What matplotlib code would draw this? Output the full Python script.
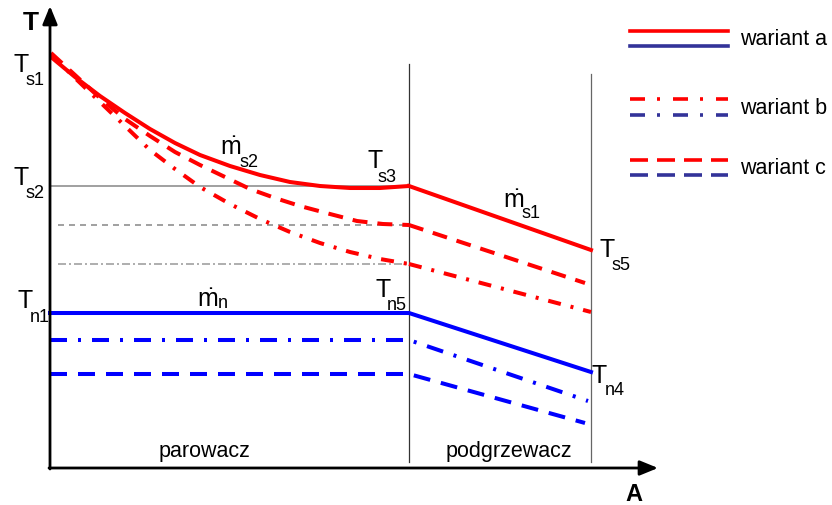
import matplotlib
matplotlib.use("Agg")
import matplotlib.pyplot as plt
from matplotlib import font_manager

# Pick a narrow sans family when available
def pick_family(names):
    for n in names:
        try:
            font_manager.findfont(font_manager.FontProperties(family=n), fallback_to_default=False)
            return n
        except Exception:
            continue
    return "DejaVu Sans"

FAMILY = pick_family(["Liberation Sans Narrow", "Liberation Sans", "DejaVu Sans"])
plt.rcParams["font.family"] = [FAMILY, "DejaVu Sans"]
plt.rcParams["mathtext.fontset"] = "custom"
plt.rcParams["mathtext.rm"] = FAMILY
plt.rcParams["mathtext.it"] = FAMILY
plt.rcParams["lines.scale_dashes"] = False

# ---- schematic data (A = heat-exchange area, T = temperature, arbitrary units) ----
A_split = 359          # end of evaporator (parowacz), start of preheater (podgrzewacz)
A_end = 541            # end of preheater

# steam side in the evaporator, variant a / b / c
A_s_a = [1, 25, 50, 75, 100, 125, 150, 180, 210, 240, 270, 300, 330, 359]
T_s_a = [411, 391, 372, 355, 339, 325, 313, 302, 293, 286, 282, 280, 280, 282]
A_s_b = [1, 25, 50, 75, 100, 125, 150, 180, 210, 240, 270, 300, 330, 359]
T_s_b = [414, 390, 366, 342, 318, 299, 281, 264, 249, 236, 225, 216, 209, 204]
A_s_c = [1, 25, 50, 75, 100, 125, 150, 175, 200, 225, 250, 280, 307, 333, 359]
T_s_c = [415, 393, 370, 349, 332, 316, 303, 291, 279, 270, 262, 254, 247, 244, 243]

# steam side in the preheater (start, end)
A_p_a, T_p_a = [359, 541], [282, 218]
A_p_b, T_p_b = [359, 541], [204, 156]
A_p_c, T_p_c = [359, 535], [243, 185]

# water side: constant in the evaporator, falling in the preheater
T_n_a, A_n_a_end, T_n_a_end = 155, 541, 96
T_n_b, A_n_b_end, T_n_b_end = 128, 538, 67
T_n_c, A_n_c_end, T_n_c_end = 94, 535, 45

RED = "#ff0000"
BLUE = "#0000ff"
NAVY = "#333399"
GRAY = "#999999"
PX = 0.72  # points per pixel at 100 dpi

fig = plt.figure(figsize=(8.32, 5.06), dpi=100)
ax = fig.add_axes([0, 0, 1, 1])
ax.set_xlim(-50, 782)
ax.set_ylim(-37, 469)
ax.axis("off")

lw = 2.9
dash_c = (0, (15 * PX, 10 * PX))
dashdot_b = (0, (13 * PX, 10 * PX, 3 * PX, 10 * PX))
dash_c_blue = (0, (17 * PX, 11 * PX))
dashdot_b_blue = (0, (17 * PX, 11 * PX, 3 * PX, 11 * PX))

# gray reference levels at the evaporator outlet
ax.plot([0, A_split], [T_s_a[-1], T_s_a[-1]], color=GRAY, lw=1.3, zorder=1)
ax.plot([8, A_split], [T_s_c[-1], T_s_c[-1]], color=GRAY, lw=1.3,
        linestyle=(0, (6 * PX, 5 * PX)), zorder=1)
ax.plot([8, A_split], [T_s_b[-1], T_s_b[-1]], color=GRAY, lw=1.1,
        linestyle=(0, (8 * PX, 3 * PX, 2 * PX, 3 * PX)), zorder=1)

# section boundaries
ax.plot([A_split, A_split], [6, 404], color="#333333", lw=0.9, zorder=1)
ax.plot([A_end, A_end], [6, 394], color="#666666", lw=0.9, zorder=1)

# steam curves
ax.plot(A_s_a, T_s_a, color=RED, lw=lw, solid_capstyle="butt", zorder=3)
ax.plot(A_p_a, T_p_a, color=RED, lw=lw, zorder=3)
ax.plot(A_s_c, T_s_c, color=RED, lw=lw, linestyle=dash_c, zorder=3)
ax.plot(A_p_c, T_p_c, color=RED, lw=lw, linestyle=dash_c, zorder=3)
ax.plot(A_s_b, T_s_b, color=RED, lw=lw, linestyle=dashdot_b, zorder=3)
ax.plot(A_p_b, T_p_b, color=RED, lw=lw, linestyle=dashdot_b, zorder=3)

# water lines
ax.plot([0, A_split, A_n_a_end], [T_n_a, T_n_a, T_n_a_end], color=BLUE, lw=lw, zorder=3)
ax.plot([0, A_split, A_n_b_end], [T_n_b, T_n_b, T_n_b_end], color=BLUE, lw=lw,
        linestyle=dashdot_b_blue, zorder=3)
ax.plot([0, A_split, A_n_c_end], [T_n_c, T_n_c, T_n_c_end], color=BLUE, lw=lw,
        linestyle=dash_c_blue, zorder=3)

# coordinate axes with arrows
ax.annotate("", xy=(608, 0), xytext=(-1, 0),
            arrowprops=dict(arrowstyle="-|>,head_length=1.1,head_width=0.45",
                            color="black", lw=2, shrinkA=0, shrinkB=0))
ax.annotate("", xy=(0, 462), xytext=(0, -1),
            arrowprops=dict(arrowstyle="-|>,head_length=1.1,head_width=0.45",
                            color="black", lw=2, shrinkA=0, shrinkB=0))
ax.text(-27, 439, "T", fontsize=19, fontweight="bold", family="Liberation Sans",
        ha="left", va="baseline")
ax.text(575, -32, "A", fontsize=17, fontweight="bold", family="Liberation Sans",
        ha="left", va="baseline")

MAIN = 18
SUB = 13


def sublabel(a, t, main, sub, dx, dy):
    ax.text(a, t, main, fontsize=MAIN, ha="left", va="baseline")
    ax.annotate(sub, xy=(a, t), xytext=(dx * PX, -dy * PX), textcoords="offset points",
                fontsize=SUB, ha="left", va="baseline")


MDOT = r"$\dot{\mathrm{m}}$"
sublabel(-37, 397, "T", "s1", 12, 13)
sublabel(-37, 284, "T", "s2", 12, 13)
sublabel(-33, 161, "T", "n1", 13, 14)
sublabel(317, 301, "T", "s3", 11, 14)
sublabel(170, 314, MDOT, "s2", 20, 12)
sublabel(453, 261, MDOT, "s1", 19, 10)
sublabel(550, 212, "T", "s5", 12, 13)
sublabel(147, 162, MDOT, "n", 21, 1)
sublabel(325, 172, "T", "n5", 12, 13)
sublabel(542, 86, "T", "n4", 13, 12)

WORD = 15.5
ax.text(155, 12, "parowacz", fontsize=WORD, ha="center", va="baseline")
ax.text(459, 12, "podgrzewacz", fontsize=WORD, ha="center", va="baseline")

# legend drawn as paired red / navy line samples
LEG_A = [580, 678]
legend_rows = [
    ("wariant a", 437, 422, "-"),
    ("wariant b", 369, 353, (0, (15 * PX, 12 * PX, 3 * PX, 13 * PX))),
    ("wariant c", 308, 293, (0, (18 * PX, 9 * PX))),
]
for label, t_red, t_navy, ls in legend_rows:
    ax.plot(LEG_A, [t_red, t_red], color=RED, lw=2.6, linestyle=ls)
    ax.plot(LEG_A, [t_navy, t_navy], color=NAVY, lw=2.6, linestyle=ls)
    ax.text(690, (t_red + t_navy) / 2, label, fontsize=WORD, ha="left", va="center")

fig.savefig("out.png", dpi=100)
